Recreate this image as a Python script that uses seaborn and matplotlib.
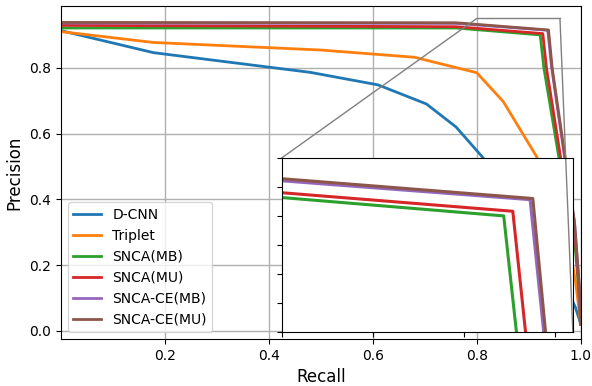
import matplotlib
matplotlib.use('Agg')
import matplotlib.pyplot as plt
from matplotlib.patches import ConnectionPatch
import seaborn as sns

# Precision-recall curves
dcnn_recall = [0.0, 0.178, 0.48, 0.61, 0.703, 0.76, 0.81, 0.87, 0.93, 0.97, 0.99, 1.0]
dcnn_prec = [0.913, 0.846, 0.786, 0.748, 0.690, 0.62, 0.53, 0.40, 0.26, 0.14, 0.07, 0.02]

triplet_recall = [0.0, 0.178, 0.5, 0.68, 0.80, 0.851, 0.915, 0.95, 0.975, 0.99, 1.0]
triplet_prec = [0.91, 0.877, 0.854, 0.832, 0.785, 0.697, 0.53, 0.40, 0.28, 0.15, 0.02]

snca_mb_recall = [0.0, 0.76, 0.922, 0.929, 0.958, 0.985, 0.995, 1.0]
snca_mb_prec = [0.921, 0.921, 0.900, 0.80, 0.526, 0.33, 0.15, 0.02]

snca_mu_recall = [0.0, 0.76, 0.927, 0.934, 0.962, 0.987, 0.996, 1.0]
snca_mu_prec = [0.929, 0.925, 0.904, 0.80, 0.52, 0.33, 0.14, 0.02]

snca_ce_mb_recall = [0.0, 0.76, 0.9365, 0.944, 0.969, 0.988, 0.997, 1.0]
snca_ce_mb_prec = [0.936, 0.935, 0.914, 0.80, 0.526, 0.33, 0.14, 0.02]

snca_ce_mu_recall = [0.0, 0.76, 0.938, 0.945, 0.970, 0.988, 0.997, 1.0]
snca_ce_mu_prec = [0.938, 0.937, 0.915, 0.80, 0.526, 0.33, 0.14, 0.02]

labels = ['D-CNN', 'Triplet', 'SNCA(MB)', 'SNCA(MU)', 'SNCA-CE(MB)', 'SNCA-CE(MU)']
curves = [(dcnn_recall, dcnn_prec), (triplet_recall, triplet_prec),
          (snca_mb_recall, snca_mb_prec), (snca_mu_recall, snca_mu_prec),
          (snca_ce_mb_recall, snca_ce_mb_prec), (snca_ce_mu_recall, snca_ce_mu_prec)]
colors = sns.color_palette('tab10', 6)

# zoom window
zoom_x = (0.8, 0.96)
zoom_y = (0.8, 0.95)

fig = plt.figure(figsize=(5.92, 3.86), dpi=100)
ax = fig.add_axes([0.103, 0.1218, 0.878, 0.8627])

for (r, p), name, c in zip(curves, labels, colors):
    sns.lineplot(x=r, y=p, ax=ax, color=c, lw=2, label=name, sort=False)

ax.set_xlim(0, 1)
ax.set_ylim(-0.025, 0.988)
ax.set_xticks([0.2, 0.4, 0.6, 0.8, 1.0])
ax.set_yticks([0.0, 0.2, 0.4, 0.6, 0.8])
ax.grid(True, color='#b0b0b0', lw=1)
ax.set_axisbelow(True)
ax.set_xlabel('Recall', fontsize=12)
ax.set_ylabel('Precision', fontsize=12)
ax.legend(loc='lower left', fontsize=10)

# Zoomed inset
axins = fig.add_axes([0.476, 0.14, 0.4916, 0.451])
for (r, p), c in zip(curves, colors):
    sns.lineplot(x=r, y=p, ax=axins, color=c, lw=2.2, sort=False, legend=False)
axins.set_xlim(*zoom_x)
axins.set_ylim(*zoom_y)
axins.set_xticks([0.8, 0.85, 0.9, 0.95])
axins.set_yticks([0.8, 0.825, 0.85, 0.875, 0.9, 0.925, 0.95])
axins.tick_params(labelleft=False, labelbottom=False)
axins.set_xlabel('')
axins.set_ylabel('')

# zoom marker: top edge of the window plus two connector lines
ax.plot(zoom_x, [zoom_y[1], zoom_y[1]], color='0.5', lw=1)
for xy_main, xy_ins in [((zoom_x[0], zoom_y[1]), (0, 1)), ((zoom_x[1], zoom_y[1]), (1, 0))]:
    con = ConnectionPatch(xyA=xy_main, coordsA=ax.transData, xyB=xy_ins, coordsB=axins.transAxes,
                          color='0.5', lw=1)
    con.set_clip_on(False)
    axins.add_artist(con)

fig.savefig('out.png', dpi=100)
